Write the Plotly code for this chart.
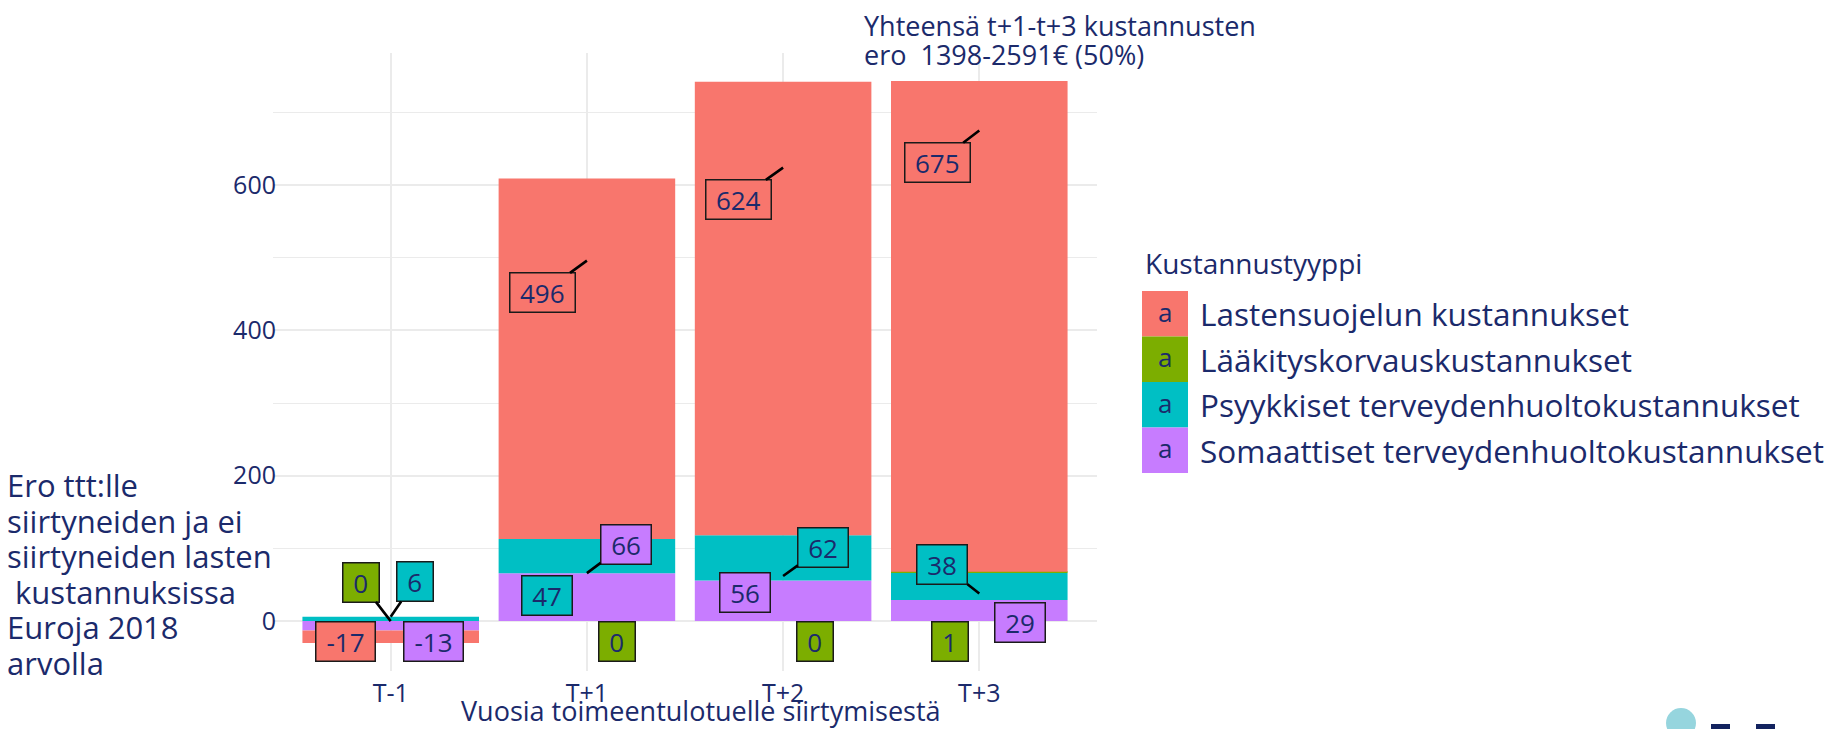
import plotly.graph_objects as go

# ---------------- data ----------------
categories = ["T-1", "T+1", "T+2", "T+3"]
series_names = [
    "Lastensuojelun kustannukset",
    "Lääkityskorvauskustannukset",
    "Psyykkiset terveydenhuoltokustannukset",
    "Somaattiset terveydenhuoltokustannukset",
]
lastensuojelu = [-17, 496, 624, 675]
laakitys = [0, 0, 0, 1]
psyykkiset = [6, 47, 62, 38]
somaattiset = [-13, 66, 56, 29]
y_tick_values = [0, 200, 400, 600]

title_lines = ["Yhteensä t+1-t+3 kustannusten", "ero\u00a0 1398-2591€ (50%)"]
y_title_lines = ["Ero ttt:lle", "siirtyneiden ja ei", "siirtyneiden lasten",
                 "\u00a0kustannuksissa", "Euroja 2018", "arvolla"]
x_title = "Vuosia toimeentulotuelle siirtymisestä"
legend_title = "Kustannustyyppi"

# ---------------- style ----------------
colors = ["#F8766D", "#7CAE00", "#00BFC4", "#C77CFF"]
NAVY = "#1b2a6b"
FONT = "Open Sans"
PAGE_W, PAGE_H = 1841, 737
BODY = 8                      # default page body margin
FW, FH = PAGE_W - 2 * BODY, PAGE_H - 2 * BODY
PL, PR, PT, PB = 273, 1097, 53, 671  # plot area in page pixels


def px(x):
    return (x - PL) / (PR - PL)


def py(y):
    return (PB - y) / (PB - PT)


# label placement (repel-like offsets in px) and whether a leader segment is drawn
label_offsets = {
    0: [(-45, 8, False), (-44, 32, True), (-45, 32, True), (-42, 32, True)],
    1: [(-30, -39, True), (30, 20, False), (32, 20, False), (-29, 21, False)],
    2: [(24, -35, True), (-40, 9, False), (40, -29, True), (-37, -29, True)],
    3: [(43, 11, False), (39, -29, True), (-38, 12, False), (41, 22, False)],
}

values = [lastensuojelu, laakitys, psyykkiset, somaattiset]

fig = go.Figure()
# stacking order from zero outward: Somaattiset, Psyykkiset, Lääkitys, Lastensuojelu
for i in [3, 2, 1, 0]:
    fig.add_trace(go.Bar(
        x=categories, y=values[i], name=series_names[i],
        marker=dict(color=colors[i], line=dict(width=0)),
        showlegend=False, hoverinfo="x+y+name",
    ))

annotations = []
for i in range(4):
    for j, cat in enumerate(categories):
        v = values[i][j]
        txt = str(v)
        ndig = sum(c.isdigit() for c in txt)
        wbox = 14.5 * ndig + (9 if txt.startswith("-") else 0) + 12
        ax, ay, seg = label_offsets[i][j]
        common = dict(
            x=cat, y=v, xref="x", yref="y", text=txt,
            font=dict(family=FONT, size=26, color=NAVY),
            bgcolor=colors[i], bordercolor="#1a1a1a", borderwidth=1.5,
            borderpad=4, width=wbox, height=30, align="center", valign="middle",
        )
        if seg:
            annotations.append(dict(**common, showarrow=True, arrowhead=0,
                                    arrowwidth=2.6, arrowcolor="black",
                                    ax=ax, ay=ay, standoff=0))
        else:
            annotations.append(dict(**common, showarrow=False, xshift=ax,
                                    yshift=-ay, xanchor="center", yanchor="middle"))

# title (top)
for k, line in enumerate(title_lines):
    annotations.append(dict(
        x=px(862), y=py([25, 55][k]), xref="paper", yref="paper",
        text=line, showarrow=False, xanchor="left", yanchor="middle",
        font=dict(family=FONT, size=27, color=NAVY)))

# y-axis title (horizontal, multi-line)
for k, line in enumerate(y_title_lines):
    annotations.append(dict(
        x=px(5), y=py(485 + 35.6 * k), xref="paper", yref="paper",
        text=line, showarrow=False, xanchor="left", yanchor="middle",
        font=dict(family=FONT, size=31, color=NAVY)))

# x-axis title
annotations.append(dict(
    x=px(701), y=py(711), xref="paper", yref="paper", text=x_title,
    showarrow=False, xanchor="center", yanchor="middle",
    font=dict(family=FONT, size=27, color=NAVY)))

# legend (ggplot-style with "a" keys)
shapes = []
annotations.append(dict(
    x=px(1143), y=py(263), xref="paper", yref="paper", text=legend_title,
    showarrow=False, xanchor="left", yanchor="middle",
    font=dict(family=FONT, size=28, color=NAVY)))
row_h = 45.5
for k in range(4):
    top = 291 + row_h * k
    shapes.append(dict(type="rect", xref="paper", yref="paper",
                       x0=px(1142), x1=px(1188), y0=py(top + row_h), y1=py(top),
                       fillcolor=colors[k], line=dict(width=0), layer="above"))
    annotations.append(dict(
        x=px(1165), y=py(top + row_h / 2 - 2), xref="paper", yref="paper", text="a",
        showarrow=False, xanchor="center", yanchor="middle",
        font=dict(family=FONT, size=26, color=NAVY)))
    annotations.append(dict(
        x=px(1198), y=py(top + row_h / 2), xref="paper", yref="paper",
        text=series_names[k], showarrow=False, xanchor="left", yanchor="middle",
        font=dict(family=FONT, size=31.5, color=NAVY)))

# logo fragments bottom-right
shapes.append(dict(type="circle", xref="paper", yref="paper",
                   x0=px(1666), x1=px(1696), y0=py(738), y1=py(708),
                   fillcolor="#96d5de", line=dict(width=0)))
for x0 in (1711, 1756):
    shapes.append(dict(type="rect", xref="paper", yref="paper",
                       x0=px(x0), x1=px(x0 + 19), y0=py(745), y1=py(724),
                       fillcolor="#13235f", line=dict(width=0)))

fig.update_layout(
    width=FW, height=FH, autosize=False,
    margin=dict(l=PL - BODY, r=FW - (PR - BODY), t=PT - BODY, b=FH - (PB - BODY), pad=0),
    barmode="relative", bargap=0.1,
    paper_bgcolor="white", plot_bgcolor="white",
    font=dict(family=FONT, color=NAVY),
    annotations=annotations, shapes=shapes, showlegend=False,
)
fig.update_xaxes(
    type="category", categoryorder="array", categoryarray=categories,
    range=[-0.6, 3.6], showgrid=True, gridcolor="#EBEBEB", gridwidth=2.2,
    showline=False, zeroline=False, ticks="", ticklabelstandoff=5,
    tickfont=dict(family=FONT, size=25, color=NAVY),
)
fig.update_yaxes(
    range=[-68.65, 781.65], tickvals=y_tick_values,
    showgrid=True, gridcolor="#EBEBEB", gridwidth=2.2,
    minor=dict(tick0=0, dtick=100, showgrid=True, gridcolor="#EBEBEB", gridwidth=1.2),
    showline=False, zeroline=False, ticks="", ticklabelstandoff=-4,
    tickfont=dict(family=FONT, size=25, color=NAVY),
)

fig.write_html("out.html")
